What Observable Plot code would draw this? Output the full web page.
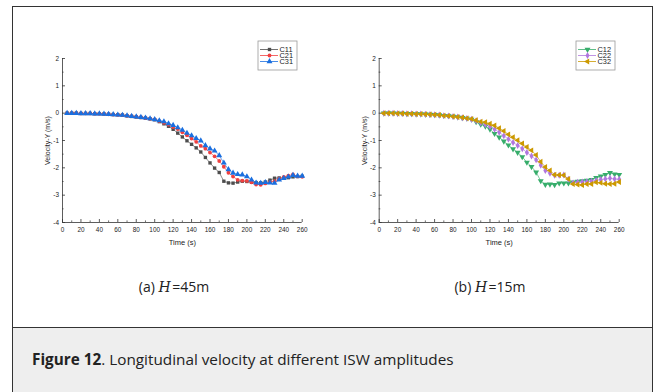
<!DOCTYPE html>
<html>
<head>
<meta charset="utf-8">
<script src="https://cdn.jsdelivr.net/npm/d3@7"></script>
<script src="https://cdn.jsdelivr.net/npm/@observablehq/plot@0.6"></script>
<style>
  html, body { margin: 0; padding: 0; background: #fff; }
  #root { position: relative; width: 656px; height: 392px; overflow: hidden; font-family: "Open Sans", "Noto Sans", sans-serif; color: #222; }
  .frame { position: absolute; left: 12px; top: 6px; width: 639px; height: 420px; border: 1px solid #333; border-bottom: none; }
  .band { position: absolute; left: 13px; top: 327px; width: 639px; height: 80px; background: #eeeeee; border-top: 1px solid #333; }
  .sub { position: absolute; top: 277px; font-size: 14px; white-space: nowrap; transform: translateX(-50%); }
  .sub i { font-family: "DejaVu Serif", "Liberation Serif", serif; font-style: italic; }
  .caption { position: absolute; left: 32px; top: 349px; font-size: 15.3px; white-space: nowrap; }
  .panel { position: absolute; top: 0; }
  .legend { position: absolute; }
  .vplot g[aria-label="x-axis label"] text { font-size: 7.5px; }
  .vplot g[aria-label="y-axis label"] text { font-size: 7px; }
</style>
</head>
<body>
<div id="root">
  <div class="frame"></div>
  <div class="band"></div>
  <div class="sub" style="left:174px">(a) <i>H</i>&#8202;=45m</div>
  <div class="sub" style="left:490px">(b) <i>H</i>&#8202;=15m</div>
  <div class="caption"><b>Figure 12</b>. Longitudinal velocity at different ISW amplitudes</div>
</div>
<script>
// Sampling instants (s)
const time = [5, 10, 15, 20, 25, 30, 35, 40, 45, 50, 55, 60, 65, 70, 75, 80, 85, 90, 95, 100,
  105, 110, 115, 120, 125, 130, 135, 140, 145, 150, 155, 160, 165, 170, 175, 180,
  185, 190, 195, 200, 205, 210, 215, 220, 225, 230, 235, 240, 245, 250, 255, 260];

// Velocity-Y (m/s), H = 45 m
const c11 = [0, 0, 0, -0.01, -0.01, -0.01, -0.02, -0.02, -0.03, -0.04, -0.05, -0.06, -0.07, -0.10, -0.12, -0.14, -0.16, -0.18, -0.21, -0.24,
  -0.31, -0.39, -0.48, -0.59, -0.73, -0.87, -1.01, -1.14, -1.27, -1.42, -1.62, -1.82, -2.01, -2.17, -2.49, -2.55,
  -2.56, -2.52, -2.49, -2.50, -2.53, -2.54, -2.55, -2.52, -2.45, -2.38, -2.37, -2.37, -2.36, -2.33, -2.32, -2.31];
const c21 = [0, 0, 0, -0.01, -0.01, -0.01, -0.02, -0.02, -0.03, -0.04, -0.05, -0.06, -0.07, -0.09, -0.11, -0.13, -0.15, -0.18, -0.20, -0.23,
  -0.29, -0.35, -0.42, -0.51, -0.58, -0.70, -0.81, -0.93, -1.05, -1.20, -1.30, -1.44, -1.58, -1.75, -1.96, -2.18,
  -2.32, -2.44, -2.47, -2.48, -2.53, -2.61, -2.62, -2.57, -2.52, -2.49, -2.40, -2.33, -2.29, -2.24, -2.31, -2.33];
const c31 = [0, 0, 0, -0.01, -0.01, -0.01, -0.02, -0.02, -0.03, -0.04, -0.05, -0.06, -0.07, -0.09, -0.11, -0.13, -0.15, -0.17, -0.20, -0.23,
  -0.27, -0.31, -0.38, -0.44, -0.53, -0.62, -0.73, -0.82, -0.92, -1.01, -1.18, -1.30, -1.38, -1.55, -1.82, -2.06,
  -2.19, -2.24, -2.25, -2.32, -2.44, -2.55, -2.56, -2.53, -2.55, -2.56, -2.44, -2.38, -2.33, -2.27, -2.30, -2.30];

// Velocity-Y (m/s), H = 15 m
const c12 = [0, 0, 0, -0.01, -0.01, -0.02, -0.02, -0.03, -0.03, -0.04, -0.05, -0.06, -0.07, -0.09, -0.10, -0.12, -0.14, -0.17, -0.19, -0.23,
  -0.32, -0.41, -0.48, -0.59, -0.75, -0.88, -1.03, -1.17, -1.31, -1.44, -1.60, -1.80, -1.96, -2.16, -2.48, -2.61,
  -2.60, -2.62, -2.56, -2.56, -2.56, -2.53, -2.50, -2.48, -2.46, -2.43, -2.36, -2.31, -2.25, -2.18, -2.23, -2.25];
const c22 = [0, 0, 0, -0.01, -0.01, -0.02, -0.02, -0.03, -0.03, -0.04, -0.05, -0.06, -0.07, -0.09, -0.10, -0.12, -0.14, -0.17, -0.19, -0.22,
  -0.28, -0.35, -0.42, -0.49, -0.59, -0.70, -0.83, -0.95, -1.07, -1.18, -1.30, -1.44, -1.57, -1.71, -1.91, -2.10,
  -2.20, -2.27, -2.27, -2.26, -2.42, -2.55, -2.53, -2.52, -2.51, -2.49, -2.46, -2.43, -2.41, -2.38, -2.41, -2.42];
const c32 = [0, 0, 0, -0.01, -0.01, -0.02, -0.02, -0.03, -0.03, -0.04, -0.05, -0.06, -0.07, -0.09, -0.10, -0.12, -0.14, -0.16, -0.19, -0.21,
  -0.26, -0.31, -0.33, -0.39, -0.45, -0.55, -0.65, -0.78, -0.88, -0.99, -1.11, -1.24, -1.36, -1.53, -1.78, -1.97,
  -2.10, -2.25, -2.26, -2.27, -2.41, -2.59, -2.61, -2.63, -2.59, -2.59, -2.53, -2.55, -2.58, -2.59, -2.58, -2.52];

// Axis ticks
const xMajor = [0, 20, 40, 60, 80, 100, 120, 140, 160, 180, 200, 220, 240, 260];
const xMinor = [10, 30, 50, 70, 90, 110, 130, 150, 170, 190, 210, 230, 250];
const yMajor = [-4, -3, -2, -1, 0, 1, 2];
const yMinor = [-3.5, -2.5, -1.5, -0.5, 0.5, 1.5];

// Extra marker shapes (pointing down / left), same area as d3's triangle
const sqrt3 = Math.sqrt(3);
const triangleDown = {
  draw(ctx, size) {
    const y = -Math.sqrt(size / (sqrt3 * 3));
    ctx.moveTo(0, -y * 2);
    ctx.lineTo(-sqrt3 * y, y);
    ctx.lineTo(sqrt3 * y, y);
    ctx.closePath();
  }
};
const triangleLeft = {
  draw(ctx, size) {
    const y = -Math.sqrt(size / (sqrt3 * 3));
    ctx.moveTo(y * 2, 0);
    ctx.lineTo(-y, -sqrt3 * y);
    ctx.lineTo(-y, sqrt3 * y);
    ctx.closePath();
  }
};

const panelA = [
  {name: "C11", values: c11, color: "#4d4d4d", symbol: "square", r: 1.9},
  {name: "C21", values: c21, color: "#f14040", symbol: "circle", r: 1.9},
  {name: "C31", values: c31, color: "#1a6fdf", symbol: "triangle", r: 2.2}
];
const panelB = [
  {name: "C12", values: c12, color: "#37ad6b", symbol: triangleDown, r: 2.2},
  {name: "C22", values: c22, color: "#b177de", symbol: "diamond", r: 2.1},
  {name: "C32", values: c32, color: "#cc9900", symbol: triangleLeft, r: 2.2}
];

const axisColor = "#333";
const tickFmt = d => String(d);

function velocityPlot(series, marginLeft, marginRight) {
  const marks = [
    Plot.ruleX([0], {stroke: axisColor, strokeWidth: 0.8}),
    Plot.ruleY([-4], {stroke: axisColor, strokeWidth: 0.8}),
    Plot.axisX(xMajor, {tickSize: -3, tickPadding: 7.5, tickFormat: tickFmt, stroke: axisColor, strokeWidth: 0.8,
      label: "Time (s)", labelAnchor: "center", labelArrow: "none", labelOffset: 22}),
    Plot.axisX(xMinor, {tickSize: -1.6, stroke: axisColor, strokeWidth: 0.7, fill: "none", label: null}),
    Plot.axisY(yMajor, {tickSize: -3, tickPadding: 6.5, tickFormat: tickFmt, stroke: axisColor, strokeWidth: 0.8,
      label: "Velocity-Y (m/s)", labelAnchor: "center", labelArrow: "none", labelOffset: 17}),
    Plot.axisY(yMinor, {tickSize: -1.6, stroke: axisColor, strokeWidth: 0.7, fill: "none", label: null})
  ];
  for (const s of series) {
    const data = time.map((t, i) => ({t, v: s.values[i]}));
    marks.push(Plot.line(data, {x: "t", y: "v", stroke: s.color, strokeWidth: 0.8, strokeOpacity: 0.8}));
  }
  for (const s of series) {
    const data = time.map((t, i) => ({t, v: s.values[i]}));
    marks.push(Plot.dot(data, {x: "t", y: "v", symbol: s.symbol, r: s.r, fill: s.color, stroke: "none"}));
  }
  return Plot.plot({
    className: "vplot",
    width: 328,
    height: 250,
    marginLeft,
    marginRight,
    marginTop: 58,
    marginBottom: 28,
    style: {fontFamily: '"Liberation Sans", Arial, sans-serif', fontSize: "6.4px", background: "transparent", color: "#222", overflow: "visible"},
    x: {domain: [0, 260]},
    y: {domain: [-4, 2]},
    marks
  });
}

function legendPlot(series) {
  const names = series.map(s => s.name);
  const marks = [Plot.frame({stroke: "#9a9a9a", strokeWidth: 0.8})];
  for (const s of series) {
    marks.push(Plot.ruleY([s.name], {x1: 3, x2: 21, stroke: s.color, strokeWidth: 0.8}));
    marks.push(Plot.dot([s.name], {x: 12, y: d => d, symbol: s.symbol, r: s.r, fill: s.color, stroke: "none"}));
    marks.push(Plot.text([s.name], {x: 22, y: d => d, text: d => d, textAnchor: "start", fill: "#222"}));
  }
  return Plot.plot({
    width: 40,
    height: 30,
    margin: 0.5,
    style: {fontFamily: '"Liberation Sans", Arial, sans-serif', fontSize: "7.4px", background: "#fff", overflow: "visible"},
    x: {type: "identity", axis: null},
    y: {type: "point", domain: names, range: [5.3, 25.3], axis: null},
    marks
  });
}

const root = document.getElementById("root");

function place(node, cls, left, top) {
  node.classList.add(cls);
  node.style.position = "absolute";
  node.style.left = left + "px";
  node.style.top = top + "px";
  root.appendChild(node);
}

place(velocityPlot(panelA, 62, 26.3), "panel", 0, 0);
place(velocityPlot(panelB, 50.7, 37.3), "panel", 328, 0);
place(legendPlot(panelA), "legend", 257, 40);
place(legendPlot(panelB), "legend", 575, 40);
</script>
</body>
</html>
